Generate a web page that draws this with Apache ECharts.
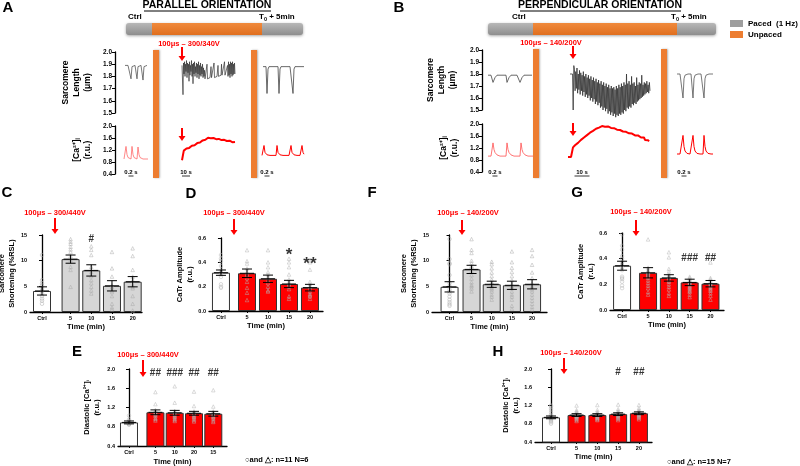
<!DOCTYPE html>
<html>
<head>
<meta charset="utf-8">
<script src="https://cdn.jsdelivr.net/npm/echarts@6/dist/echarts.min.js"></script>
<style>
  html, body { margin: 0; padding: 0; background: #fff; }
  #chart { width: 800px; height: 466px; }
</style>
</head>
<body>
<div id="chart"></div>
<script>
const FONT = "'Liberation Sans', Arial, sans-serif";

// ---------- traces (A = parallel, B = perpendicular) ----------
const slParCtrl = [1.89,1.89,1.89,1.89,1.89,1.89,1.78,1.88,1.89,1.89,1.89,1.89,1.78,1.88,1.89,1.89,1.89,1.89,1.77,1.88,1.89,1.89,1.89];
const slParMid = [1.89,1.89,1.65,1.91,1.82,1.92,1.80,1.90,1.84,1.93,1.79,1.91,1.83,1.90,1.76,1.92,1.81,1.89,1.84,1.93,1.80,1.90,1.74,1.91,1.82,1.92,1.80,1.88,1.83,1.91,1.79,1.90,1.82,1.92,1.78,1.89,1.81,1.91,1.80,1.88,1.82,1.90,1.79,1.87,1.80,1.85,1.78,1.78,1.78,1.78,1.90,1.78,1.78,1.78,1.78,1.78,1.79,1.79,1.88,1.79,1.79,1.79,1.79,1.79,1.91,1.79,1.79,1.79,1.80,1.80,1.80,1.80,1.89,1.80,1.80,1.80,1.80,1.80,1.81,1.90,1.81,1.81,1.81,1.81,1.81,1.92,1.81,1.81,1.82,1.82,1.82,1.89,1.80,1.92,1.81,1.90,1.79,1.92,1.82,1.91,1.80,1.92,1.81,1.90,1.82,1.91,1.82];
const slParPost = [1.88,1.88,1.88,1.88,1.66,1.86,1.88,1.88,1.88,1.88,1.88,1.88,1.88,1.88,1.88,1.88,1.66,1.86,1.88,1.88,1.88,1.88,1.88,1.88,1.88,1.88,1.88,1.88,1.88,1.88,1.66,1.86,1.88,1.88,1.88,1.88,1.88,1.88,1.88,1.88,1.88,1.88];
const caParCtrl = [0.9,0.9,1.32,1.05,0.95,0.92,0.9,0.9,1.32,1.05,0.95,0.92,0.9,0.9,1.3,1.05,0.95,0.92,0.9,0.9,0.9,0.9,0.9,0.9,0.9];
const caParMid = [0.86,0.86,1.18,1.22,1.20,1.25,1.24,1.28,1.27,1.31,1.30,1.34,1.33,1.37,1.36,1.40,1.39,1.43,1.42,1.46,1.45,1.49,1.48,1.52,1.51,1.55,1.54,1.58,1.57,1.61,1.58,1.62,1.59,1.61,1.58,1.60,1.57,1.59,1.56,1.58,1.55,1.57,1.54,1.56,1.53,1.55,1.52,1.54,1.51,1.53,1.50,1.52,1.49,1.51,1.47,1.49,1.46,1.48,1.45,1.47];
const caParPost = [1.02,1.02,1.35,1.12,1.06,1.04,1.03,1.02,1.02,1.02,1.02,1.02,1.02,1.02,1.02,1.35,1.12,1.06,1.04,1.03,1.02,1.02,1.02,1.02,1.02,1.02,1.02,1.02,1.02,1.35,1.12,1.06,1.04,1.03,1.02,1.02,1.02,1.02,1.02,1.02,1.35,1.12,1.06];

const slPerCtrl = [1.79,1.79,1.79,1.79,1.79,1.73,1.75,1.77,1.78,1.79,1.79,1.79,1.79,1.79,1.79,1.79,1.79,1.79,1.79,1.73,1.75,1.77,1.78,1.79,1.79,1.79,1.79,1.79,1.79,1.79,1.79,1.79,1.73,1.75,1.77,1.78,1.79,1.79,1.79,1.79,1.79,1.79,1.79,1.79,1.79];
const slPerMid = [1.80,1.80,1.80,1.80,1.80,1.50,1.87,
  1.84,1.66,1.82,1.68,1.85,1.64,1.80,1.67,1.83,1.63,1.81,1.66,1.79,1.62,1.82,1.65,1.78,1.61,1.80,1.63,
  1.77,1.60,1.79,1.62,1.76,1.58,1.78,1.60,1.75,1.57,1.77,1.59,1.74,1.55,1.76,1.57,1.73,1.54,1.75,1.56,
  1.72,1.52,1.74,1.53,1.71,1.50,1.73,1.52,1.70,1.49,1.72,1.51,1.69,1.47,1.71,1.49,1.68,1.46,1.70,1.48,
  1.68,1.45,1.69,1.47,1.67,1.44,1.70,1.46,1.68,1.45,1.71,1.47,1.69,1.46,1.72,1.48,1.70,1.47,1.73,1.50,
  1.71,1.49,1.80,1.52,1.72,1.51,1.74,1.53,1.71,1.52,1.78,1.55,1.72,1.54,1.73,1.56,1.70,1.55,1.77,1.57,
  1.71,1.58,1.73,1.59,1.72,1.60,1.79,1.61,1.71,1.62,1.73,1.63,1.72,1.64,1.74,1.65,1.71,1.64,1.73,1.66];
const slPerPost = [1.80,1.80,1.80,1.80,1.80,1.80,1.60,1.76,1.79,1.80,1.80,1.80,1.80,1.80,1.80,1.80,1.60,1.76,1.79,1.80,1.80,1.80,1.80,1.80,1.80,1.80,1.80,1.60,1.76,1.79,1.80,1.80,1.80,1.80,1.80,1.80,1.80];
const caPerCtrl = [0.93,0.93,0.93,0.93,0.93,1.37,1.15,1.05,1.0,0.97,0.95,0.94,0.93,0.93,0.93,0.93,0.93,0.93,0.93,1.37,1.15,1.05,1.0,0.97,0.95,0.94,0.93,0.93,0.93,0.93,0.93,0.93,0.93,1.37,1.15,1.05,1.0,0.97,0.95,0.94,0.93,0.93,0.93,0.93,0.93,0.93];
const caPerMid = [0.90,0.90,0.90,0.90,0.90,1.22,1.25,1.29,1.31,1.35,1.37,1.41,1.43,1.47,1.49,1.53,1.55,1.58,1.61,1.63,1.66,1.68,1.71,1.73,1.76,1.77,1.80,1.81,1.84,1.85,1.87,1.88,1.90,1.91,1.93,1.92,1.94,1.91,1.93,1.90,1.92,1.89,1.90,1.87,1.88,1.85,1.86,1.83,1.84,1.81,1.82,1.79,1.80,1.77,1.78,1.75,1.76,1.73,1.74,1.71,1.72,1.69,1.70,1.67,1.68,1.65,1.66,1.62,1.64,1.60,1.62,1.57,1.60,1.55,1.58,1.52,1.55,1.47,1.52,1.44,1.46,1.42];
const caPerPost = [1.0,1.0,1.0,1.0,1.0,1.0,1.62,1.25,1.10,1.04,1.02,1.0,1.0,1.0,1.0,1.0,1.62,1.25,1.10,1.04,1.02,1.0,1.0,1.0,1.0,1.0,1.0,1.62,1.25,1.10,1.04,1.02,1.0,1.0,1.0,1.0,1.0];

// ---------- bar panels ----------
const timeLabels = ['Ctrl', '5', '10', '15', '20'];
const timeLabelsE = ['Ctrl', '5', '10', '20', '15'];

// C: sarcomere shortening, parallel
const shortParMean = [4.1, 10.3, 8.1, 5.1, 5.9];
const shortParSem = [0.8, 0.8, 1.1, 1.0, 1.0];
const shortParPts = [
  [11.1, 6.2, 5.6, 5.2, 4.6, 4.2, 3.6, 3.1, 2.6, 2.2, 1.6],
  [14.2, 13.7, 13.3, 12.7, 12.2, 11.7, 10.9, 10.1, 8.8, 8.2, 4.9],
  [12.8, 12.1, 11.1, 8.8, 7.8, 7.0, 6.2, 5.6, 4.9, 4.2, 3.6],
  [11.7, 8.5, 6.9, 5.2, 4.8, 4.2, 3.9, 3.1, 1.6, 0.9, 0.5],
  [12.4, 10.9, 8.2, 6.9, 6.2, 5.2, 4.9, 4.6, 3.1, 1.6, 0.3]
];
const shortParSig = ['', '###', '#', '', ''];

// D: CaTr amplitude, parallel
const catrParMean = [0.315, 0.31, 0.265, 0.222, 0.192];
const catrParSem = [0.022, 0.035, 0.03, 0.03, 0.027];
const catrParPts = [
  [0.46, 0.43, 0.41, 0.37, 0.33, 0.31, 0.30, 0.28, 0.22, 0.20, 0.19],
  [0.50, 0.41, 0.39, 0.35, 0.32, 0.30, 0.27, 0.24, 0.19, 0.15, 0.09],
  [0.50, 0.40, 0.36, 0.32, 0.30, 0.28, 0.25, 0.23, 0.20, 0.17, 0.16],
  [0.43, 0.40, 0.36, 0.30, 0.26, 0.24, 0.22, 0.20, 0.18, 0.12, 0.10],
  [0.40, 0.34, 0.24, 0.22, 0.20, 0.18, 0.16, 0.14, 0.13, 0.12, 0.10]
];
const catrParSig = ['', '', '', '*', '**'];

// E: diastolic Ca, parallel (order as printed: Ctrl, 5, 10, 20, 15)
const diasParMean = [0.89, 1.10, 1.09, 1.08, 1.07];
const diasParSem = [0.03, 0.05, 0.05, 0.04, 0.05];
const diasParPts = [
  [1.03, 0.95, 0.92, 0.91, 0.90, 0.89, 0.88, 0.87, 0.86, 0.85, 0.84],
  [1.52, 1.27, 1.15, 1.12, 1.10, 1.07, 1.05, 1.02, 0.98, 0.96, 0.93],
  [1.64, 1.30, 1.13, 1.10, 1.07, 1.05, 1.02, 1.00, 0.97, 0.95, 0.92],
  [1.53, 1.23, 1.12, 1.10, 1.07, 1.05, 1.02, 1.00, 0.97, 0.94, 0.91],
  [1.56, 1.22, 1.12, 1.10, 1.07, 1.05, 1.02, 1.00, 0.97, 0.93, 0.90]
];
const diasParSig = ['', '##', '###', '##', '##'];

// F: sarcomere shortening, perpendicular
const shortPerMean = [4.9, 8.3, 5.4, 5.2, 5.4];
const shortPerSem = [1.0, 0.8, 0.6, 0.8, 0.9];
const shortPerPts = [
  [14.2, 10.3, 9.5, 9.3, 7.2, 5.6, 5.0, 4.4, 4.0, 3.6, 3.0, 2.4, 1.9, 1.5, 1.2],
  [14.2, 12.1, 11.5, 10.0, 9.5, 9.0, 8.8, 8.0, 7.2, 6.5, 5.8, 5.3, 5.0, 4.6, 4.0],
  [9.8, 9.3, 8.5, 7.7, 7.0, 6.3, 5.8, 5.3, 5.0, 4.7, 4.4, 4.0, 3.4, 3.0, 2.4],
  [11.8, 9.7, 8.6, 7.8, 7.0, 6.2, 5.4, 5.0, 4.6, 4.0, 3.4, 3.0, 2.4, 1.2, 0.6],
  [12.1, 10.9, 9.2, 7.7, 6.6, 5.6, 5.0, 4.4, 4.0, 3.4, 2.8, 2.2, 1.6, 1.0, 0.5]
];
const shortPerSig = ['', '###', '', '', ''];

// G: CaTr amplitude, perpendicular
const catrPerMean = [0.345, 0.29, 0.25, 0.215, 0.205];
const catrPerSem = [0.035, 0.04, 0.025, 0.025, 0.025];
const catrPerPts = [
  [0.59, 0.50, 0.47, 0.42, 0.40, 0.37, 0.35, 0.33, 0.31, 0.26, 0.25, 0.24, 0.22, 0.19, 0.17],
  [0.55, 0.33, 0.31, 0.30, 0.29, 0.28, 0.27, 0.26, 0.25, 0.23, 0.21, 0.19, 0.17, 0.14, 0.12],
  [0.45, 0.41, 0.32, 0.30, 0.28, 0.27, 0.26, 0.25, 0.23, 0.22, 0.20, 0.18, 0.16, 0.13, 0.11],
  [0.26, 0.25, 0.24, 0.23, 0.22, 0.21, 0.20, 0.19, 0.18, 0.17, 0.16, 0.15, 0.14, 0.12, 0.10],
  [0.37, 0.25, 0.24, 0.23, 0.22, 0.21, 0.20, 0.19, 0.18, 0.17, 0.16, 0.15, 0.13, 0.11, 0.08]
];
const catrPerSig = ['', '', '', '###', '##'];

// H: diastolic Ca, perpendicular
const diasPerMean = [0.94, 0.99, 0.99, 1.01, 1.03];
const diasPerSem = [0.03, 0.03, 0.03, 0.03, 0.03];
const diasPerPts = [
  [1.20, 1.18, 1.14, 1.10, 1.05, 1.00, 0.97, 0.95, 0.93, 0.91, 0.89, 0.87, 0.85, 0.83, 0.80],
  [1.20, 1.10, 1.07, 1.05, 1.03, 1.01, 1.00, 0.98, 0.97, 0.96, 0.95, 0.93, 0.91, 0.89, 0.86],
  [1.21, 1.10, 1.06, 1.04, 1.02, 1.01, 1.00, 0.99, 0.97, 0.96, 0.95, 0.93, 0.92, 0.90, 0.88],
  [1.22, 1.12, 1.08, 1.06, 1.04, 1.03, 1.02, 1.01, 1.00, 0.98, 0.97, 0.95, 0.93, 0.91, 0.88],
  [1.21, 1.14, 1.10, 1.08, 1.06, 1.05, 1.04, 1.03, 1.02, 1.00, 0.99, 0.97, 0.95, 0.93, 0.90]
];
const diasPerSig = ['', '', '', '#', '##'];

// ---------- build ----------
const grids = [], xAxes = [], yAxes = [], series = [];
const RED = '#ff0000';

function yAxisStyle(extra) {
  return Object.assign({
    type: 'value',
    axisLine: { show: true, lineStyle: { color: '#000', width: 1.3 } },
    axisTick: { show: true, inside: false, length: 3, lineStyle: { color: '#000', width: 1 } },
    splitLine: { show: false },
    nameLocation: 'middle',
    nameRotate: 90
  }, extra);
}

function addTrace(p) {
  const gi = grids.length;
  grids.push({ left: p.left, top: p.top, width: p.width, height: p.height, outerBoundsMode: 'none' });
  xAxes.push({ gridIndex: gi, type: 'value', min: 0, max: p.width, show: false });
  yAxes.push(yAxisStyle({
    gridIndex: gi, min: p.ymin, max: p.ymax, interval: p.interval,
    name: p.name, nameGap: p.nameGap,
    nameTextStyle: { fontFamily: FONT, fontWeight: 'bold', fontSize: 8.5, lineHeight: 11, color: '#000' },
    axisLabel: { fontFamily: FONT, fontWeight: 'bold', fontSize: 6.5, color: '#000', margin: 3,
      formatter: v => v.toFixed(1) }
  }));
  p.segs.forEach(s => {
    const n = s.values.length;
    series.push({
      type: 'line', xAxisIndex: gi, yAxisIndex: gi, showSymbol: false, clip: false,
      lineStyle: { color: s.color, width: s.width },
      data: s.values.map((v, i) => [s.from + i * (s.to - s.from) / (n - 1), v]),
      silent: true
    });
  });
}

function addBarPanel(p) {
  const gi = grids.length;
  grids.push({ left: p.left, top: p.top, width: p.width, height: p.height, outerBoundsMode: 'none' });
  const labelAt = v => {
    for (let i = 0; i < p.xpos.length; i++) if (Math.abs(p.xpos[i] - v) < 1e-6) return p.labels[i];
    return '';
  };
  xAxes.push({
    gridIndex: gi, type: 'value', min: p.xmin, max: p.xmax,
    name: 'Time (min)', nameLocation: 'middle', nameGap: p.xNameGap,
    nameTextStyle: { fontFamily: FONT, fontWeight: 'bold', fontSize: 7.5, color: '#000' },
    axisLine: { show: true, onZero: false, lineStyle: { color: '#000', width: 1.3 } },
    axisTick: { show: true, customValues: p.xpos, length: 2, lineStyle: { color: '#000' } },
    axisLabel: { show: true, customValues: p.xpos, formatter: labelAt, fontFamily: FONT,
      fontWeight: 'bold', fontSize: 5.5, color: '#000', margin: 3 },
    splitLine: { show: false }
  });
  yAxes.push(yAxisStyle({
    gridIndex: gi, min: p.ymin, max: p.ymax, interval: p.interval,
    name: p.yName, nameGap: p.yNameGap,
    nameTextStyle: { fontFamily: FONT, fontWeight: 'bold', fontSize: 7.5, lineHeight: 10, color: '#000' },
    axisLabel: { fontFamily: FONT, fontWeight: 'bold', fontSize: 5.5, color: '#000', margin: 3,
      formatter: v => v.toFixed(p.decimals) }
  }));
  series.push({
    type: 'bar', xAxisIndex: gi, yAxisIndex: gi, barWidth: 18, silent: true,
    data: p.mean.map((m, i) => ({
      value: [p.xpos[i], m],
      itemStyle: { color: i === 0 ? '#fff' : p.barColor, borderColor: '#333', borderWidth: 1 }
    }))
  });
  const pts = [];
  p.pts.forEach((arr, i) => arr.forEach(v => pts.push({ value: [p.xpos[i], v], symbol: i === 0 ? 'circle' : 'triangle' })));
  series.push({
    type: 'scatter', xAxisIndex: gi, yAxisIndex: gi, symbolSize: 3.5, silent: true, z: 3,
    itemStyle: { color: 'rgba(0,0,0,0)', borderColor: p.ptColor, borderWidth: 0.6 },
    data: pts
  });
  series.push({
    type: 'custom', xAxisIndex: gi, yAxisIndex: gi, silent: true, z: 4,
    encode: { x: 0, y: 1 },
    data: p.mean.map((m, i) => [p.xpos[i], m, p.sem[i]]),
    renderItem: (params, api) => {
      const x = api.value(0), m = api.value(1), s = api.value(2);
      const t = api.coord([x, m + s]), b = api.coord([x, m - s]), c = api.coord([x, m]);
      const st = { stroke: '#000', lineWidth: 1 };
      return { type: 'group', children: [
        { type: 'line', shape: { x1: t[0], y1: t[1], x2: b[0], y2: b[1] }, style: st },
        { type: 'line', shape: { x1: t[0] - 5, y1: t[1], x2: t[0] + 5, y2: t[1] }, style: st },
        { type: 'line', shape: { x1: b[0] - 5, y1: b[1], x2: b[0] + 5, y2: b[1] }, style: st },
        { type: 'line', shape: { x1: c[0] - 7, y1: c[1], x2: c[0] + 7, y2: c[1] }, style: st }
      ] };
    }
  });
  series.push({
    type: 'scatter', xAxisIndex: gi, yAxisIndex: gi, symbolSize: 1, silent: true, z: 5,
    itemStyle: { color: 'rgba(0,0,0,0)' },
    label: { show: true, position: 'inside', formatter: d => d.data.sig,
      fontFamily: FONT, fontWeight: 'bold', fontSize: p.sigSize, color: '#000' },
    data: p.sig.map((s, i) => ({ value: [p.xpos[i], p.sigY[i]], sig: s })).filter(d => d.sig)
  });
}

// A traces
addTrace({ left: 115, top: 52, width: 192, height: 61, ymin: 1.5, ymax: 2.0, interval: 0.1,
  name: 'Sarcomere\nLength\n(μm)', nameGap: 22,
  segs: [
    { values: slParCtrl, from: 10, to: 32, color: '#555', width: 0.8 },
    { values: slParMid, from: 67, to: 120, color: '#333', width: 0.7 },
    { values: slParPost, from: 148, to: 189, color: '#444', width: 0.8 }
  ] });
addTrace({ left: 115, top: 126, width: 192, height: 48, ymin: 0.4, ymax: 2.0, interval: 0.4,
  name: '[Ca²⁺]ᵢ\n(r.u.)', nameGap: 22,
  segs: [
    { values: caParCtrl, from: 9, to: 33, color: '#ff6b6b', width: 0.8 },
    { values: caParMid, from: 67, to: 120, color: RED, width: 2 },
    { values: caParPost, from: 147, to: 189, color: RED, width: 1 }
  ] });
// B traces
addTrace({ left: 482, top: 50, width: 235, height: 60, ymin: 1.5, ymax: 2.0, interval: 0.1,
  name: 'Sarcomere\nLength\n(μm)', nameGap: 24,
  segs: [
    { values: slPerCtrl, from: 6, to: 50, color: '#444', width: 0.8 },
    { values: slPerMid, from: 88, to: 168, color: '#333', width: 0.8 },
    { values: slPerPost, from: 195, to: 231, color: '#555', width: 0.8 }
  ] });
addTrace({ left: 482, top: 124, width: 235, height: 48, ymin: 0.4, ymax: 2.0, interval: 0.4,
  name: '[Ca²⁺]ᵢ\n(r.u.)', nameGap: 22,
  segs: [
    { values: caPerCtrl, from: 6, to: 51, color: '#ff5050', width: 0.8 },
    { values: caPerMid, from: 86, to: 167, color: RED, width: 2 },
    { values: caPerPost, from: 195, to: 231, color: RED, width: 1 }
  ] });

// bar panels
addBarPanel({ left: 30, top: 235, width: 112, height: 77, xmin: -0.58, xmax: 4.83,
  xpos: [0, 1.38, 2.38, 3.38, 4.38], labels: timeLabels, ymin: 0, ymax: 15, interval: 5, decimals: 0,
  yName: 'Sarcomere\nShortening (%RSL)', yNameGap: 10, xNameGap: 11,
  mean: shortParMean, sem: shortParSem, pts: shortParPts, barColor: '#d6d6d6', ptColor: '#a8a8a8',
  sig: shortParSig, sigY: [0, 15.6, 14.2, 0, 0], sigSize: 10 });
addBarPanel({ left: 209, top: 238, width: 114, height: 73, xmin: -0.57, xmax: 4.86,
  xpos: [0, 1.24, 2.24, 3.24, 4.24], labels: timeLabels, ymin: 0, ymax: 0.6, interval: 0.2, decimals: 1,
  yName: 'CaTr Amplitude\n(r.u.)', yNameGap: 13, xNameGap: 11,
  mean: catrParMean, sem: catrParSem, pts: catrParPts, barColor: RED, ptColor: '#b4b4b4',
  sig: catrParSig, sigY: [0, 0, 0, 0.46, 0.38], sigSize: 17 });
addBarPanel({ left: 118, top: 369, width: 109, height: 77, xmin: -0.57, xmax: 5.08,
  xpos: [0, 1.37, 2.37, 3.37, 4.37], labels: timeLabelsE, ymin: 0.4, ymax: 2.0, interval: 0.4, decimals: 1,
  yName: 'Diastolic [Ca²⁺]ᵢ\n(r.u.)', yNameGap: 16, xNameGap: 12,
  mean: diasParMean, sem: diasParSem, pts: diasParPts, barColor: RED, ptColor: '#b4b4b4',
  sig: diasParSig, sigY: [0, 1.92, 1.92, 1.92, 1.92], sigSize: 10 });
addBarPanel({ left: 432, top: 235, width: 115, height: 77, xmin: -0.87, xmax: 4.83,
  xpos: [0, 1.09, 2.09, 3.09, 4.09], labels: timeLabels, ymin: 0, ymax: 15, interval: 5, decimals: 0,
  yName: 'Sarcomere\nShortening (%RSL)', yNameGap: 9, xNameGap: 11,
  mean: shortPerMean, sem: shortPerSem, pts: shortPerPts, barColor: '#d6d6d6', ptColor: '#a8a8a8',
  sig: shortPerSig, sigY: [0, 15.6, 0, 0, 0], sigSize: 10 });
addBarPanel({ left: 610, top: 233, width: 114, height: 77, xmin: -0.58, xmax: 4.9,
  xpos: [0, 1.25, 2.25, 3.25, 4.25], labels: timeLabels, ymin: 0, ymax: 0.6, interval: 0.2, decimals: 1,
  yName: 'CaTr Amplitude\n(r.u.)', yNameGap: 14, xNameGap: 11,
  mean: catrPerMean, sem: catrPerSem, pts: catrPerPts, barColor: RED, ptColor: '#b4b4b4',
  sig: catrPerSig, sigY: [0, 0, 0, 0.405, 0.405], sigSize: 10 });
addBarPanel({ left: 535, top: 369, width: 117, height: 73, xmin: -0.77, xmax: 4.86,
  xpos: [0, 1.23, 2.23, 3.23, 4.23], labels: timeLabels, ymin: 0.4, ymax: 2.0, interval: 0.4, decimals: 1,
  yName: 'Diastolic [Ca²⁺]ᵢ\n(r.u.)', yNameGap: 13, xNameGap: 11,
  mean: diasPerMean, sem: diasPerSem, pts: diasPerPts, barColor: RED, ptColor: '#b4b4b4',
  sig: diasPerSig, sigY: [0, 0, 0, 1.92, 1.92], sigSize: 10 });

// ---------- annotations ----------
function txt(x, y, text, size, opts) {
  return { type: 'text', x: x, y: y, silent: true,
    style: Object.assign({ text: text, fill: '#000', fontFamily: FONT, fontWeight: 'bold',
      fontSize: size, align: 'center', verticalAlign: 'middle' }, (opts && opts.style) || {}) };
}
function arrow(x, y1, y2) {
  return { type: 'group', silent: true, children: [
    { type: 'line', shape: { x1: x, y1: y1, x2: x, y2: y2 - 4 }, style: { stroke: RED, lineWidth: 2 } },
    { type: 'polygon', shape: { points: [[x - 3.5, y2 - 5], [x + 3.5, y2 - 5], [x, y2]] }, style: { fill: RED } }
  ] };
}
function redText(x, y, text) {
  return txt(x, y, text, 7.5, { style: { fill: RED } });
}
function timeline(x0, x1, x2, x3, y) {
  const gray = new echarts.graphic.LinearGradient(0, 0, 0, 1, [{ offset: 0, color: '#b8b8b8' }, { offset: 1, color: '#8e8e8e' }]);
  const orange = new echarts.graphic.LinearGradient(0, 0, 0, 1, [{ offset: 0, color: '#f08a3c' }, { offset: 1, color: '#e06f1e' }]);
  return [
    { type: 'rect', silent: true, shape: { x: x0, y: y, width: x3 - x0, height: 12, r: 3 },
      style: { fill: gray, shadowBlur: 3, shadowColor: 'rgba(0,0,0,0.35)', shadowOffsetY: 1 } },
    { type: 'rect', silent: true, shape: { x: x1, y: y, width: x2 - x1, height: 12 }, style: { fill: orange } }
  ];
}
function vbar(x, y, h) {
  return { type: 'rect', silent: true, shape: { x: x, y: y, width: 6, height: h },
    style: { fill: '#ed7d31', shadowBlur: 2, shadowColor: 'rgba(0,0,0,0.3)', shadowOffsetX: 1 } };
}
function scaleBar(x, y, label, len) {
  return [
    txt(x, y, label, 6),
    { type: 'line', silent: true, shape: { x1: x - len / 2, y1: y + 4, x2: x + len / 2, y2: y + 4 }, style: { stroke: '#000', lineWidth: 0.8 } }
  ];
}
const richT0 = {
  a: { fontFamily: FONT, fontWeight: 'bold', fontSize: 8, fill: '#000' },
  s: { fontFamily: FONT, fontWeight: 'bold', fontSize: 5.5, fill: '#000', verticalAlign: 'bottom', padding: [5, 0, 0, 0] }
};

const graphics = [
  // panel letters
  txt(8, 8, 'A', 15), txt(399, 8, 'B', 15), txt(7, 193, 'C', 15), txt(191, 194, 'D', 15),
  txt(372, 193, 'F', 15), txt(577, 193, 'G', 15), txt(77, 352, 'E', 15), txt(498, 352, 'H', 15),
  // titles
  txt(207, 5, 'PARALLEL ORIENTATION', 10.5),
  { type: 'line', silent: true, shape: { x1: 144, y1: 11, x2: 271, y2: 11 }, style: { stroke: '#000', lineWidth: 1 } },
  txt(600, 5, 'PERPENDICULAR ORIENTATION', 10.5),
  { type: 'line', silent: true, shape: { x1: 520, y1: 11, x2: 681, y2: 11 }, style: { stroke: '#000', lineWidth: 1 } },
  ...timeline(126, 152, 262, 303, 23),
  ...timeline(488, 533, 677, 716, 23),
  txt(128, 17, 'Ctrl', 8, { style: { align: 'left' } }),
  { type: 'text', x: 259, y: 17, silent: true, style: { text: '{a|T}{s|0}{a| + 5min}', rich: richT0, align: 'left', verticalAlign: 'middle' } },
  txt(512, 17, 'Ctrl', 8, { style: { align: 'left' } }),
  { type: 'text', x: 671, y: 17, silent: true, style: { text: '{a|T}{s|0}{a| + 5min}', rich: richT0, align: 'left', verticalAlign: 'middle' } },
  // legend
  { type: 'rect', silent: true, shape: { x: 730, y: 20, width: 13, height: 7 }, style: { fill: '#9e9e9e' } },
  txt(748, 24, 'Paced  (1 Hz)', 8, { style: { align: 'left' } }),
  { type: 'rect', silent: true, shape: { x: 730, y: 31, width: 13, height: 7 }, style: { fill: '#ed7d31' } },
  txt(748, 35, 'Unpaced', 8, { style: { align: 'left' } }),
  // unpaced markers between traces
  vbar(153, 50, 128), vbar(251, 50, 128), vbar(533, 49, 129), vbar(661, 49, 129),
  // stimulus annotations on traces
  redText(189, 44, '100μs – 300/340V'), arrow(182, 47, 61), arrow(182, 128, 141),
  redText(551, 43, '100μs – 140/200V'), arrow(573, 46, 59), arrow(573, 123, 136),
  ...scaleBar(131, 172, '0.2 s', 5), ...scaleBar(186, 172, '10 s', 8), ...scaleBar(267, 172, '0.2 s', 5),
  ...scaleBar(495, 172, '0.2 s', 5), ...scaleBar(582, 172, '10 s', 15), ...scaleBar(684, 172, '0.2 s', 5),
  // stimulus annotations on bar panels
  redText(55, 213, '100μs – 300/440V'), arrow(55, 218, 234),
  redText(234, 213, '100μs – 300/440V'), arrow(234, 219, 235),
  redText(148, 355, '100μs – 300/440V'), arrow(143, 360, 377),
  redText(468, 213, '100μs – 140/200V'), arrow(462, 220, 235),
  redText(641, 212, '100μs – 140/200V'), arrow(636, 220, 236),
  redText(571, 353, '100μs – 140/200V'), arrow(564, 358, 374),
  // n notes
  txt(245, 460, '○and △: n=11 N=6', 7.5, { style: { align: 'left' } }),
  txt(667, 462, '○and △: n=15 N=7', 7.5, { style: { align: 'left' } })
];

const chart = echarts.init(document.getElementById('chart'), null, { renderer: 'canvas' });
chart.setOption({
  animation: false,
  backgroundColor: '#fff',
  grid: grids,
  xAxis: xAxes,
  yAxis: yAxes,
  series: series,
  graphic: graphics
});
</script>
</body>
</html>
